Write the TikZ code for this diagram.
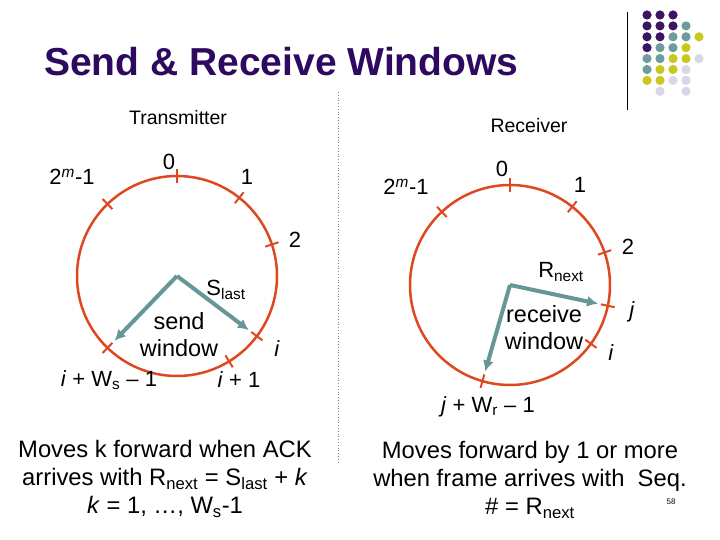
\documentclass[tikz,border=0pt]{standalone}
\usepackage{fontspec}
\setmainfont{Liberation Sans}
\usetikzlibrary{calc, arrows.meta}

\definecolor{titlepurple}{RGB}{45,10,95}
\definecolor{ringred}{RGB}{222,72,32}
\definecolor{winteal}{RGB}{102,150,150}
\definecolor{dotP}{RGB}{60,20,100}
\definecolor{dotT}{RGB}{110,155,155}
\definecolor{dotY}{RGB}{200,200,30}
\definecolor{dotL}{RGB}{215,215,232}

\begin{document}
\begin{tikzpicture}[x=1pt, y=1pt,
    ring/.style={draw=ringred, line width=2.5pt},
    ringtick/.style={draw=ringred, line width=2pt},
    winarrow/.style={draw=winteal, line width=4pt, shorten >=10pt, -{Latex[length=11pt,width=11pt]}},
    lbl/.style={font=\fontsize{22}{26}\selectfont, inner sep=0pt},
    winlbl/.style={font=\fontsize{23.5}{27}\selectfont, inner sep=0pt, align=center},
    head/.style={font=\fontsize{19.5}{23}\selectfont, inner sep=0pt},
    note/.style={font=\fontsize{23.8}{28}\selectfont, align=center, inner sep=0pt, anchor=north}]

    \useasboundingbox (0,0) rectangle (720,540);

    \node[anchor=base west, inner sep=0pt, text=titlepurple,
          font=\fontsize{39}{46}\selectfont\bfseries] (title) at (44,464) {Send \& Receive Windows};

    % corner decoration
    \draw[line width=1pt] (627,528) -- (627,430);
    \foreach \c/\r/\col in {0/0/dotP,1/0/dotP,2/0/dotP,
                            0/1/dotP,1/1/dotP,2/1/dotP,3/1/dotT,
                            0/2/dotP,1/2/dotP,2/2/dotT,3/2/dotT,4/2/dotY,
                            0/3/dotP,1/3/dotT,2/3/dotT,3/3/dotY,
                            0/4/dotT,1/4/dotT,2/4/dotY,3/4/dotY,4/4/dotL,
                            0/5/dotT,1/5/dotY,2/5/dotY,3/5/dotL,
                            0/6/dotY,1/6/dotY,2/6/dotL,3/6/dotL,
                            1/7/dotL,3/7/dotL}
        \fill[\col] (647+13*\c, 525-10.9*\r) circle (4.6pt);

    \draw[dotted, line width=0.8pt, gray] (338,448) -- (338,78);

    % transmitter
    \coordinate (tc) at (177,264);
    \draw[ring] (tc) circle (100pt);
    \foreach \a/\n in {90/0, 51.5/1, 18.4/2, 134/m, -37/i, -58.6/ip, -134/iw} {
        \coordinate (t-\n) at ($(tc)+(\a:100)$);
        \draw[ringtick] ($(tc)+(\a:93)$) -- ($(tc)+(\a:107)$);
    }
    \draw[winarrow] (tc) -- (t-i);
    \draw[winarrow] (tc) -- (t-iw);

    \node[head] (tx) at (178,422) {Transmitter};
    \node[lbl] (tl0) at (169,378) {0};
    \node[lbl] (tl1) at (247,363) {1};
    \node[lbl] (tl2) at (295,300) {2};
    \node[lbl] (tlm) at (72,363) {2\textsuperscript{\textit{m}}-1};
    \node[lbl] (tlast) at (226,250) {S\textsubscript{last}};
    \node[winlbl] (sendwin) at (179,205) {send\\window};
    \node[lbl] (tli) at (277,191) {\textit{i}};
    \node[lbl] (tlip) at (239,160) {\textit{i} + 1};
    \node[lbl] (tliw) at (109,160) {\textit{i} + W\textsubscript{s} -- 1};

    % receiver
    \coordinate (rc) at (510,255);
    \draw[ring] (rc) circle (100pt);
    \foreach \a/\n in {90/0, 51.5/1, 19/2, 133/m, -12/j, -36/i, -106/jw} {
        \coordinate (r-\n) at ($(rc)+(\a:100)$);
        \draw[ringtick] ($(rc)+(\a:93)$) -- ($(rc)+(\a:107)$);
    }
    \draw[winarrow] (rc) -- (r-j);
    \draw[winarrow] (rc) -- (r-jw);

    \node[head] (rx) at (529,414) {Receiver};
    \node[lbl] (rl0) at (502,371) {0};
    \node[lbl] (rl1) at (580,355) {1};
    \node[lbl] (rl2) at (628,293) {2};
    \node[lbl] (rlm) at (406,353) {2\textsuperscript{\textit{m}}-1};
    \node[lbl] (rnext) at (561,268) {R\textsubscript{next}};
    \node[winlbl] (recvwin) at (544,212) {receive\\window};
    \node[lbl] (rlj) at (632,228) {\textit{j}};
    \node[lbl] (rli) at (611,187) {\textit{i}};
    \node[lbl] (rljw) at (488,133) {\textit{j} + W\textsubscript{r} -- 1};

    % notes
    \node[note] (txnote) at (165,100) {Moves k forward when ACK\\
        arrives with R\textsubscript{next} = S\textsubscript{last} + \textit{k}\\
        \textit{k} = 1, \dots, W\textsubscript{s}-1};
    \node[note] (rxnote) at (530,99) {Moves forward by 1 or more\\
        when frame arrives with~ Seq.\\
        \# = R\textsubscript{next}};
    \node[font=\fontsize{8}{9}\selectfont, inner sep=0pt] (pagenum) at (671,38) {58};
\end{tikzpicture}
\end{document}
